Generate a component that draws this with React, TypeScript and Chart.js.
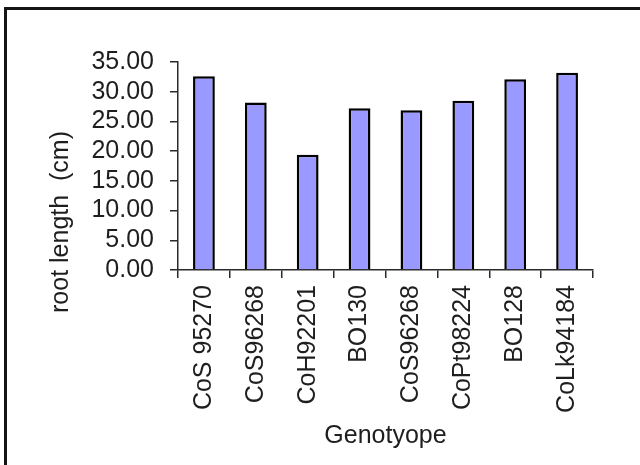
import React, { useEffect, useRef } from "react";
import { Chart, registerables } from "chart.js";

Chart.register(...registerables);

// ---- data ----
const genotypes = [
  "CoS 95270",
  "CoS96268",
  "CoH92201",
  "BO130",
  "CoS96268",
  "CoPt98224",
  "BO128",
  "CoLk94184",
];
const rootLength = [32.6, 28.2, 19.4, 27.2, 26.9, 28.5, 32.1, 33.2];
const yMin = 0;
const yMax = 35;
const yStep = 5;
const yTitle = "root length  (cm)";
const xTitle = "Genotyope";

const FONT = "'Liberation Sans', Arial, Helvetica, sans-serif";
const TEXT = "#1e1e1e";
const AXIS = "#2a2a2a";

const yTitlePlugin = {
  id: "yTitleCustom",
  afterDraw(chart: any, _args: any, opts: any) {
    const ctx = chart.ctx;
    ctx.save();
    ctx.font = `${opts.size}px ${FONT}`;
    ctx.fillStyle = TEXT;
    ctx.translate(opts.x, opts.y);
    ctx.rotate(-Math.PI / 2);
    ctx.textAlign = "center";
    ctx.textBaseline = "middle";
    ctx.fillText(opts.text, 0, 0);
    ctx.restore();
  },
};

export default function App() {
  const ref = useRef<HTMLCanvasElement | null>(null);

  useEffect(() => {
    if (!ref.current) return;
    const chart = new Chart(ref.current, {
      type: "bar",
      data: {
        labels: genotypes,
        datasets: [
          {
            data: rootLength,
            backgroundColor: "#9999ff",
            borderColor: "#000000",
            borderWidth: 2.5,
            barPercentage: 0.42,
            categoryPercentage: 1,
          },
        ],
      },
      plugins: [yTitlePlugin],
      options: {
        responsive: false,
        animation: false,
        devicePixelRatio: 1,
        layout: { padding: { top: 62, right: 47, bottom: 0, left: 0 } },
        plugins: {
          legend: { display: false },
          tooltip: { enabled: false },
          title: { display: false },
          yTitleCustom: { text: yTitle, x: 61, y: 222, size: 25 },
        } as any,
        scales: {
          x: {
            afterFit: (s: any) => {
              s.height = 195;
            },
            grid: {
              offset: true,
              drawOnChartArea: false,
              drawTicks: true,
              tickLength: 8,
              color: AXIS,
              lineWidth: 1.5,
            },
            border: { display: true, color: AXIS, width: 1.5 },
            ticks: {
              autoSkip: false,
              maxRotation: 90,
              minRotation: 90,
              padding: 7,
              color: TEXT,
              font: { family: FONT, size: 25 },
            },
            title: {
              display: true,
              text: xTitle,
              color: TEXT,
              font: { family: FONT, size: 25 },
              padding: { top: 0, bottom: 14 },
            },
          },
          y: {
            min: yMin,
            max: yMax,
            afterFit: (s: any) => {
              s.width = 178;
            },
            grid: {
              drawOnChartArea: false,
              drawTicks: true,
              tickLength: 8,
              color: AXIS,
              lineWidth: 1.5,
            },
            border: { display: true, color: AXIS, width: 1.5 },
            ticks: {
              stepSize: yStep,
              autoSkip: false,
              padding: 16,
              color: TEXT,
              font: { family: FONT, size: 25, lineHeight: 1 },
              callback: (v: any) => Number(v).toFixed(2),
            },
          },
        },
      },
    });
    return () => chart.destroy();
  }, []);

  return (
    <div
      style={{
        position: "absolute",
        left: 0,
        top: 0,
        width: 640,
        height: 465,
        overflow: "hidden",
        background: "#ffffff",
      }}
    >
      <div
        style={{
          position: "absolute",
          left: 4,
          top: 7,
          width: 700,
          height: 500,
          borderLeft: "3px solid #151515",
          borderTop: "3px solid #151515",
        }}
      />
      <canvas
        ref={ref}
        width={640}
        height={465}
        style={{ position: "absolute", left: 0, top: 0, width: 640, height: 465 }}
      />
    </div>
  );
}
